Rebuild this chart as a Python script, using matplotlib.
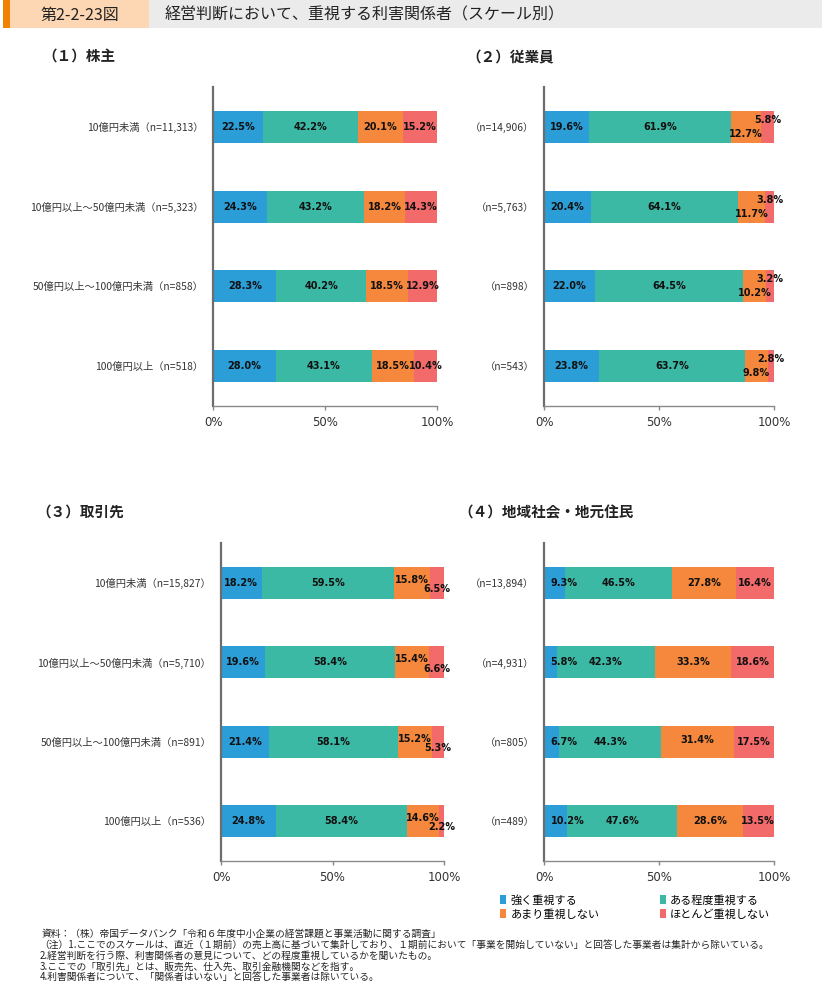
import matplotlib
matplotlib.use("Agg")
import matplotlib.pyplot as plt
from matplotlib.patches import Rectangle

plt.rcParams['font.family'] = ['Noto Sans CJK JP', 'DejaVu Sans']

# %% datos
series_names = ["強く重視する", "ある程度重視する", "あまり重視しない", "ほとんど重視しない"]
colores = ["#2b9ed8", "#3cb9a5", "#f5883c", "#f36a6a"]

labels_p1 = ["10億円未満（n=11,313）", "10億円以上～50億円未満（n=5,323）",
             "50億円以上～100億円未満（n=858）", "100億円以上（n=518）"]
labels_p2 = ["（n=14,906）", "（n=5,763）", "（n=898）", "（n=543）"]
labels_p3 = ["10億円未満（n=15,827）", "10億円以上～50億円未満（n=5,710）",
             "50億円以上～100億円未満（n=891）", "100億円以上（n=536）"]
labels_p4 = ["（n=13,894）", "（n=4,931）", "（n=805）", "（n=489）"]

# (1) 株主
p1_fuerte = [22.5, 24.3, 28.3, 28.0]
p1_algo = [42.2, 43.2, 40.2, 43.1]
p1_poco = [20.1, 18.2, 18.5, 18.5]
p1_nada = [15.2, 14.3, 12.9, 10.4]

# (2) 従業員
p2_fuerte = [19.6, 20.4, 22.0, 23.8]
p2_algo = [61.9, 64.1, 64.5, 63.7]
p2_poco = [12.7, 11.7, 10.2, 9.8]
p2_nada = [5.8, 3.8, 3.2, 2.8]

# (3) 取引先
p3_fuerte = [18.2, 19.6, 21.4, 24.8]
p3_algo = [59.5, 58.4, 58.1, 58.4]
p3_poco = [15.8, 15.4, 15.2, 14.6]
p3_nada = [6.5, 6.6, 5.3, 2.2]

# (4) 地域社会・地元住民
p4_fuerte = [9.3, 5.8, 6.7, 10.2]
p4_algo = [46.5, 42.3, 44.3, 47.6]
p4_poco = [27.8, 33.3, 31.4, 28.6]
p4_nada = [16.4, 18.6, 17.5, 13.5]

W, H = 822, 986
fig = plt.figure(figsize=(W / 100, H / 100), dpi=100)


def rect_px(x0, y0, x1, y1, color):
    fig.patches.append(Rectangle((x0 / W, 1 - y1 / H), (x1 - x0) / W, (y1 - y0) / H,
                                 transform=fig.transFigure, facecolor=color,
                                 edgecolor="none", zorder=0))


# %% cabecera
rect_px(3, 0, 10, 28, "#f08200")
rect_px(10, 0, 149, 28, "#fdd7b3")
rect_px(149, 0, 822, 28, "#ebebeb")
fig.text(80 / W, 1 - 15 / H, "第2-2-23図", fontsize=11.5, ha="center", va="center", color="#222")
fig.text(165 / W, 1 - 15 / H, "経営判断において、重視する利害関係者（スケール別）",
         fontsize=11.5, ha="left", va="center", color="#222")


def panel(rect, titulo, titulo_xy, labels, datos, offsets):
    left, top, right, bottom = rect
    ax = fig.add_axes([left / W, 1 - bottom / H, (right - left) / W, (bottom - top) / H])
    y = list(range(len(labels)))
    base = [0.0] * len(labels)
    for k, vals in enumerate(datos):
        ax.barh(y, vals, left=base, height=0.4, color=colores[k], edgecolor="none")
        for i, v in enumerate(vals):
            dx, dy, ha = offsets.get((k, i), offsets.get(k, (0, 0, "center")))
            if ha == "left":
                xx = base[i]
            else:
                xx = base[i] + v / 2
            ax.annotate(f"{v:.1f}%", (xx, i), xytext=(dx, dy), textcoords="offset points",
                        ha=ha, va="center", fontsize=7, fontweight="bold",
                        family="DejaVu Sans", color="#111", annotation_clip=False)
        base = [b + v for b, v in zip(base, vals)]

    ax.set_xlim(0, 100)
    ax.set_ylim(3.5, -0.5)
    ax.set_yticks(y)
    ax.set_yticklabels(labels, fontsize=7.4, color="#333")
    ax.set_xticks([0, 50, 100])
    ax.set_xticklabels(["0%", "50%", "100%"], fontsize=8.5, family="DejaVu Sans", color="#333")
    ax.tick_params(axis="y", length=0, pad=7)
    ax.tick_params(axis="x", length=3, width=1, color="#888", pad=4)
    for s in ["top", "right"]:
        ax.spines[s].set_visible(False)
    ax.spines["left"].set_color("#6d6d6d")
    ax.spines["left"].set_linewidth(1.6)
    ax.spines["bottom"].set_color("#8a8a8a")
    ax.spines["bottom"].set_linewidth(1.0)

    fig.text(titulo_xy[0] / W, 1 - titulo_xy[1] / H, titulo, fontsize=10.5,
             fontweight="bold", ha="left", va="center", color="#222")
    return ax


panel((213, 87, 437, 406), "（１）株主", (42, 57), labels_p1,
      [p1_fuerte, p1_algo, p1_poco, p1_nada], {})
panel((544, 87, 774, 406), "（２）従業員", (466, 57), labels_p2,
      [p2_fuerte, p2_algo, p2_poco, p2_nada],
      {2: (0, -5, "center"), 3: (0, 5, "center")})
panel((221, 543, 444, 861), "（３）取引先", (36, 512), labels_p3,
      [p3_fuerte, p3_algo, p3_poco, p3_nada],
      {2: (0, 2, "center"), 3: (0, -4.5, "center")})
panel((544, 543, 774, 861), "（４）地域社会・地元住民", (458, 512), labels_p4,
      [p4_fuerte, p4_algo, p4_poco, p4_nada],
      {0: (4.8, 0, "left"), (2, 2): (0, 1.2, "center")})

# %% leyenda
handles = [Rectangle((0, 0), 1, 1, facecolor=c, edgecolor="none") for c in colores]
orden = [0, 2, 1, 3]
fig.legend([handles[i] for i in orden], [series_names[i] for i in orden],
           loc="upper left", bbox_to_anchor=(500 / W, 1 - 895 / H), ncol=2,
           frameon=False, fontsize=8, handlelength=0.55, handleheight=0.9,
           handletextpad=0.4, columnspacing=5.4, labelspacing=0.3,
           borderaxespad=0, borderpad=0)

# %% notas
notas = [
    (42, 934, "資料：（株）帝国データバンク「令和６年度中小企業の経営課題と事業活動に関する調査」"),
    (39, 945, "（注）1.ここでのスケールは、直近（１期前）の売上高に基づいて集計しており、１期前において「事業を開始していない」と回答した事業者は集計から除いている。"),
    (40, 956, "2.経営判断を行う際、利害関係者の意見について、どの程度重視しているかを聞いたもの。"),
    (40, 967, "3.ここでの「取引先」とは、販売先、仕入先、取引金融機関などを指す。"),
    (40, 977, "4.利害関係者について、「関係者はいない」と回答した事業者は除いている。"),
]
for x, yy, t in notas:
    fig.text(x / W, 1 - yy / H, t, fontsize=7, ha="left", va="center", color="#222")

fig.savefig("out.png", dpi=100)
